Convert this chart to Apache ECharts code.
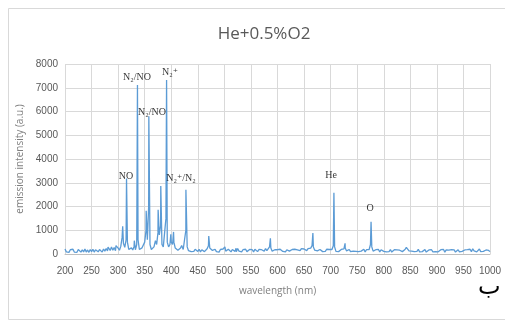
<!DOCTYPE html>
<html>
<head>
<meta charset="utf-8">
<script src="https://cdn.jsdelivr.net/npm/echarts@6/dist/echarts.min.js"></script>
<style>
  html, body { margin: 0; padding: 0; background: #fff; }
  #chart { width: 505px; height: 321px; }
</style>
</head>
<body>
<div id="chart"></div>
<script>
// baseline of the spectrum, one value every 2.5 nm from 200 nm (20 values per 50 nm row)
var startNm = 200;
var stepNm = 2.5;
var baseline = [
  210,90,170,70,180,100,200,80,160,70,190,110,80,180,90,210,80,170,70,190,         // 200
  100,200,80,180,220,90,190,110,80,210,120,230,130,240,150,290,160,270,140,300,    // 250
  250,160,320,700,450,280,600,500,190,130,260,170,320,180,400,600,190,140,260,200, // 300
  500,1000,600,2000,400,190,260,300,350,400,900,800,1200,400,300,250,1500,500,300,400, // 350
  500,400,500,250,190,160,240,250,300,190,600,1000,300,140,200,100,180,110,200,120, // 400
  110,200,90,180,210,100,170,220,350,250,180,150,110,200,100,170,80,190,110,210,   // 450
  230,120,100,200,120,90,190,210,110,100,230,120,190,90,180,110,200,100,170,190,   // 500
  110,180,90,200,120,100,190,110,180,210,120,230,140,220,300,250,120,100,180,110,  // 550
  180,100,200,120,110,190,90,180,210,120,100,190,110,200,130,170,220,140,230,150,  // 600
  210,240,140,230,260,250,350,300,160,230,130,110,190,120,100,180,110,200,120,190, // 650
  120,190,350,300,110,180,100,170,190,110,220,250,130,110,190,100,180,120,200,110, // 700
  190,100,180,120,110,200,90,180,110,190,400,300,120,100,180,110,190,90,180,120,   // 750
  110,180,90,170,100,190,80,160,180,100,170,90,160,180,100,170,190,280,220,130,    // 800
  210,120,190,100,180,110,200,90,170,100,180,190,80,160,170,100,180,90,160,100,    // 850
  170,90,160,180,100,190,80,170,100,160,90,180,110,170,80,150,180,90,170,110,      // 900
  100,170,90,180,110,200,100,220,130,160,90,170,210,100,180,110,80,170,90,150,     // 950
  100                                                                               // 1000
];

// emission lines: [wavelength nm, intensity]
var peaks = [
  [281, 290], [296, 350], [308.6, 1170], [315.8, 3180], [330.5, 560],
  [336.4, 7120], [352.8, 1820], [357.8, 5800], [370.2, 560], [375.3, 1860],
  [380.3, 2860], [391.2, 7330], [399.2, 830], [404.3, 930], [419.6, 360],
  [427.6, 2700], [470.6, 760], [501, 300], [522, 240], [586.6, 660],
  [666.6, 880], [706.2, 2580], [727.2, 450], [776.1, 1360], [843.6, 340]
];

// line labels: [text, wavelength nm, intensity of label centre]
var annotations = [
  ['NO', 315, 3285],
  ['N₂/NO', 335.6, 7450],
  ['N₂/NO', 363.8, 5980],
  ['N₂⁺', 397.7, 7660],
  ['N₂⁺/N₂', 418.5, 3200],
  ['He', 701, 3330],
  ['O', 774.4, 1940]
];

var yTicks = { min: 0, max: 8000, interval: 1000 };
var xTicks = { min: 200, max: 1000, interval: 50 };

var spectrum = baseline.map(function (v, i) { return [startNm + i * stepNm, v]; })
  .concat(peaks)
  .sort(function (a, b) { return a[0] - b[0]; });

var chartDom = document.getElementById('chart');
var myChart = echarts.init(chartDom);
var option;

option = {
  backgroundColor: '#fff',
  animation: false,
  title: {
    text: 'He+0.5%O2',
    left: 259,
    top: 21,
    textAlign: 'center',
    textStyle: {
      color: '#595959',
      fontSize: 17,
      fontWeight: 'normal',
      fontFamily: 'Open Sans'
    }
  },
  graphic: [
    {
      type: 'rect',
      shape: { x: 8.5, y: 8.5, width: 520, height: 311 },
      style: { fill: 'none', stroke: '#d9d9d9', lineWidth: 1 },
      silent: true
    },
    {
      type: 'text',
      left: 478,
      top: 276,
      style: { text: 'ب', fontSize: 24, fill: '#000', fontFamily: 'DejaVu Sans' },
      silent: true
    }
  ],
  grid: {
    left: 65,
    right: 15,
    top: 64,
    bottom: 67
  },
  xAxis: {
    type: 'value',
    min: xTicks.min,
    max: xTicks.max,
    interval: xTicks.interval,
    name: 'wavelength (nm)',
    nameLocation: 'middle',
    nameGap: 32,
    nameTextStyle: { color: '#7f7f7f', fontSize: 10, fontFamily: 'Open Sans' },
    axisTick: { show: false },
    axisLine: { show: true, lineStyle: { color: '#bfbfbf', width: 1 } },
    axisLabel: {
      color: '#595959',
      fontSize: 10,
      margin: 12,
      fontFamily: 'Liberation Sans Narrow, Liberation Sans',
      formatter: function (v) { return String(v); }
    },
    splitLine: { show: true, lineStyle: { color: '#d9d9d9', width: 1 } }
  },
  yAxis: {
    type: 'value',
    min: yTicks.min,
    max: yTicks.max,
    interval: yTicks.interval,
    name: 'emission intensity (a.u.)',
    nameLocation: 'middle',
    nameGap: 29,
    nameTextStyle: { color: '#7f7f7f', fontSize: 10, fontFamily: 'Open Sans' },
    axisTick: { show: false },
    axisLine: { show: false },
    axisLabel: {
      color: '#595959',
      fontSize: 10,
      margin: 7,
      fontFamily: 'Liberation Sans Narrow, Liberation Sans',
      formatter: function (v) { return String(v); }
    },
    splitLine: { show: true, lineStyle: { color: '#d9d9d9', width: 1 } }
  },
  series: [
    {
      type: 'line',
      data: spectrum,
      showSymbol: false,
      symbol: 'none',
      lineStyle: { color: '#5b9bd5', width: 1.3 },
      z: 3
    },
    {
      type: 'scatter',
      symbolSize: 0,
      silent: true,
      data: annotations.map(function (a) { return { name: a[0], value: [a[1], a[2]] }; }),
      label: {
        show: true,
        position: 'inside',
        formatter: '{b}',
        color: '#000',
        fontSize: 10,
        fontFamily: 'Liberation Serif, DejaVu Serif'
      },
      z: 4
    }
  ]
};

option && myChart.setOption(option);
window.addEventListener('resize', function () {
  myChart.resize();
});
</script>
</body>
</html>
